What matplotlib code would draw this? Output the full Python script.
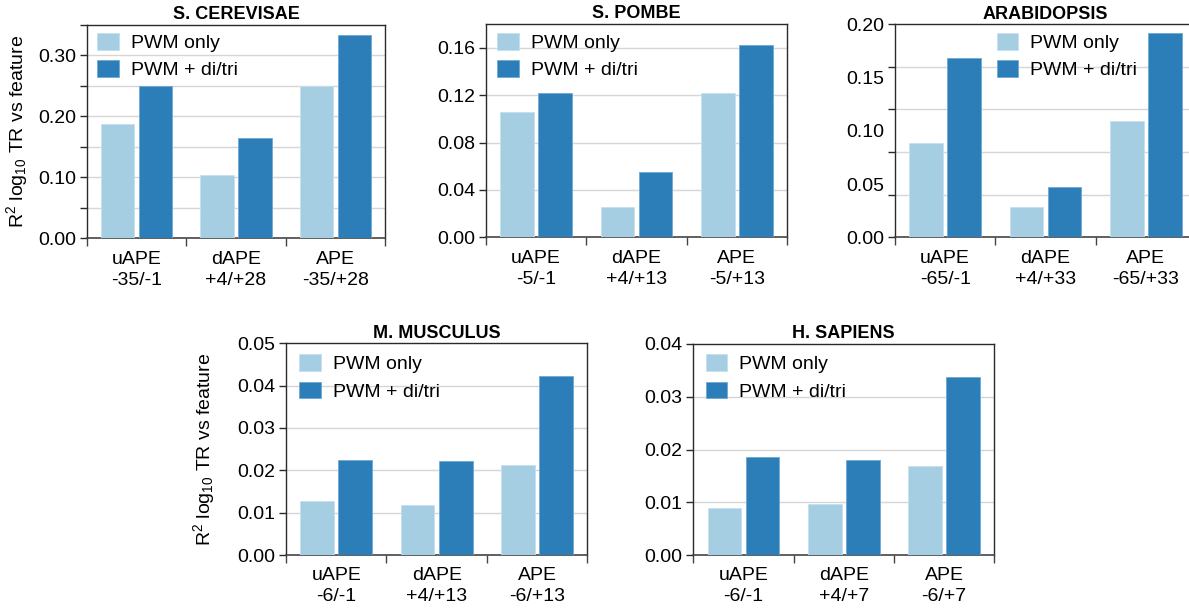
import matplotlib
matplotlib.use('Agg')
import matplotlib.pyplot as plt
import numpy as np
from matplotlib.ticker import FixedLocator, NullFormatter, FuncFormatter

plt.rcParams['font.family'] = ['Liberation Sans', 'DejaVu Sans']
plt.rcParams['mathtext.fontset'] = 'custom'
plt.rcParams['mathtext.rm'] = 'Liberation Sans'
plt.rcParams['mathtext.it'] = 'Liberation Sans:italic'
plt.rcParams['mathtext.bf'] = 'Liberation Sans:bold'
plt.rcParams['mathtext.default'] = 'regular'

# ---------------- data ----------------
series_labels = ['PWM only', 'PWM + di/tri']
feature_names = ['uAPE', 'dAPE', 'APE']

title_sc = 'S. CEREVISAE'
ranges_sc = ['-35/-1', '+4/+28', '-35/+28']
pwm_only_sc = [0.188, 0.104, 0.250]
pwm_ditri_sc = [0.250, 0.164, 0.334]

title_sp = 'S. POMBE'
ranges_sp = ['-5/-1', '+4/+13', '-5/+13']
pwm_only_sp = [0.1055, 0.0255, 0.122]
pwm_ditri_sp = [0.122, 0.0553, 0.162]

title_at = 'ARABIDOPSIS'
ranges_at = ['-65/-1', '+4/+33', '-65/+33']
pwm_only_at = [0.089, 0.0285, 0.109]
pwm_ditri_at = [0.168, 0.0472, 0.192]

title_mm = 'M. MUSCULUS'
ranges_mm = ['-6/-1', '+4/+13', '-6/+13']
pwm_only_mm = [0.0128, 0.0118, 0.0213]
pwm_ditri_mm = [0.0225, 0.0222, 0.0422]

title_hs = 'H. SAPIENS'
ranges_hs = ['-6/-1', '+4/+7', '-6/+7']
pwm_only_hs = [0.0090, 0.0097, 0.0169]
pwm_ditri_hs = [0.0186, 0.0181, 0.0338]

ylabel_text = 'R$^2$ log$_{10}$ TR vs feature'

# ---------------- style ----------------
LIGHT = '#a6cee3'
DARK = '#2b7eb8'
GRID = '#d6d6d6'
SPINE = '#2a2a2a'
FS = 14

W, H = 1189, 610
fig = plt.figure(figsize=(W / 100, H / 100), dpi=100)


def px_axes(left, top, right, bottom):
    return fig.add_axes([left / W, 1 - bottom / H, (right - left) / W, (bottom - top) / H])


def panel(ax, title, ranges, v1, v2, ymax, major, grid_vals, label_vals=None,
          label_fmt='{:.2f}', minor=None, legend_anchor=(0.03, 0.96), ylabel=None,
          ylabel_x=-0.2):
    x = np.arange(len(feature_names))
    off, bw = 0.19, 0.335
    ax.bar(x - off, v1, bw, color=LIGHT, edgecolor='#c4e0ef', linewidth=0.6,
           label=series_labels[0], zorder=3)
    ax.bar(x + off, v2, bw, color=DARK, edgecolor='#6fa9d6', linewidth=0.6,
           label=series_labels[1], zorder=3)
    ax.set_xlim(-0.5, len(feature_names) - 0.5)
    ax.set_ylim(0, ymax)
    for g in grid_vals:
        ax.axhline(g, color=GRID, lw=1.0, zorder=1)
    # x ticks at group boundaries, labels at centers
    ax.set_xticks(np.arange(len(feature_names) + 1) - 0.5)
    ax.set_xticklabels([])
    ax.set_xticks(x, minor=True)
    ax.set_xticklabels([f'{n}\n{r}' for n, r in zip(feature_names, ranges)], minor=True,
                       fontsize=FS, linespacing=1.3)
    ax.tick_params(axis='x', which='major', length=6, width=1.0, color='#444', direction='out')
    ax.tick_params(axis='x', which='minor', length=0, pad=9)
    # y ticks
    ax.yaxis.remove_overlapping_locs = False
    ax.yaxis.set_major_locator(FixedLocator(major))
    if label_vals is None:
        ax.set_yticklabels([label_fmt.format(v) for v in major], fontsize=FS)
        if minor is not None:
            ax.yaxis.set_minor_locator(FixedLocator(minor))
            ax.yaxis.set_minor_formatter(NullFormatter())
            ax.tick_params(axis='y', which='minor', length=5, width=1.0, color=SPINE)
    else:
        ax.yaxis.set_major_formatter(NullFormatter())
        ax.yaxis.set_minor_locator(FixedLocator(label_vals))
        ax.yaxis.set_minor_formatter(FuncFormatter(lambda v, p: label_fmt.format(v)))
        ax.tick_params(axis='y', which='minor', length=0, pad=8, labelsize=FS)
    ax.tick_params(axis='y', which='major', length=5, width=1.0, color=SPINE, pad=3,
                   labelsize=FS)
    for s in ['left', 'top', 'right']:
        ax.spines[s].set_color(SPINE)
        ax.spines[s].set_linewidth(1.0)
    ax.spines['bottom'].set_color('#444')
    ax.spines['bottom'].set_linewidth(1.2)
    ax.set_title(title, fontsize=13, fontweight='bold', pad=4)
    ax.legend(loc='upper left', bbox_to_anchor=legend_anchor, frameon=False, fontsize=FS,
              handlelength=1.1, handleheight=0.95, handletextpad=0.62, labelspacing=0.42,
              borderpad=0, borderaxespad=0)
    if ylabel:
        ax.set_ylabel(ylabel, fontsize=FS)
        ax.yaxis.set_label_coords(ylabel_x, 0.5)


ax1 = px_axes(87, 25, 385, 238.3)
panel(ax1, title_sc, ranges_sc, pwm_only_sc, pwm_ditri_sc, 0.35,
      major=[0.0, 0.1, 0.2, 0.3], grid_vals=[0.05, 0.1, 0.15, 0.2, 0.25, 0.3],
      minor=[0.05, 0.15, 0.25, 0.35], legend_anchor=(0.034, 0.962),
      ylabel=ylabel_text, ylabel_x=-0.19)

ax2 = px_axes(486, 24, 787, 237.3)
panel(ax2, title_sp, ranges_sp, pwm_only_sp, pwm_ditri_sp, 0.18,
      major=[0.0, 0.04, 0.08, 0.12, 0.16], grid_vals=[0.04, 0.08, 0.12, 0.16],
      legend_anchor=(0.037, 0.958))

ax3 = px_axes(895, 24.3, 1196, 237.3)
panel(ax3, title_at, ranges_at, pwm_only_at, pwm_ditri_at, 0.20,
      major=[0.0, 0.04, 0.08, 0.12, 0.16, 0.20], grid_vals=[0.04, 0.08, 0.12, 0.16],
      label_vals=[0.0, 0.05, 0.10, 0.15, 0.20], legend_anchor=(0.339, 0.959))

ax4 = px_axes(286, 343.3, 587.3, 555)
panel(ax4, title_mm, ranges_mm, pwm_only_mm, pwm_ditri_mm, 0.05,
      major=[0.0, 0.01, 0.02, 0.03, 0.04, 0.05], grid_vals=[0.01, 0.02, 0.03, 0.04],
      legend_anchor=(0.044, 0.948), ylabel=ylabel_text, ylabel_x=-0.23)

ax5 = px_axes(693.3, 344, 994.3, 555)
panel(ax5, title_hs, ranges_hs, pwm_only_hs, pwm_ditri_hs, 0.04,
      major=[0.0, 0.01, 0.02, 0.03, 0.04], grid_vals=[0.01, 0.02, 0.03],
      legend_anchor=(0.042, 0.951))

fig.savefig('out.png', dpi=100)
